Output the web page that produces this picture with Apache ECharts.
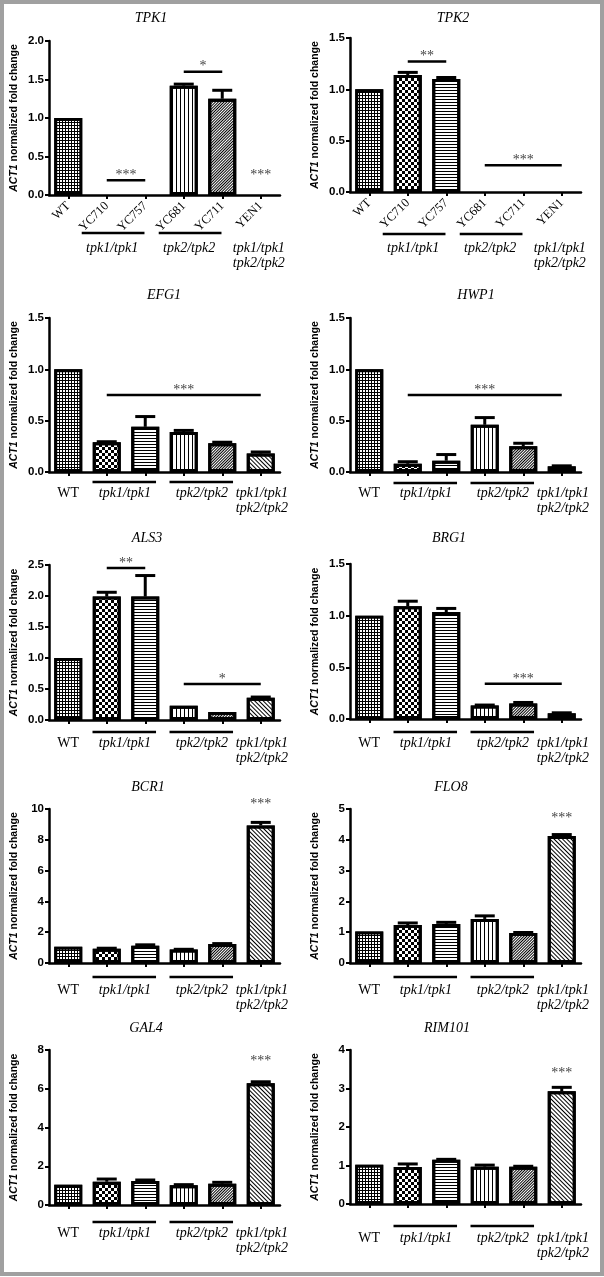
<!DOCTYPE html>
<html><head><meta charset="utf-8">
<script src="https://cdn.jsdelivr.net/npm/echarts@6/dist/echarts.min.js"></script>
<style>html,body{margin:0;padding:0;background:#fff}#c{width:604px;height:1277px}</style>
</head><body><div id="c"></div><script>
// ---------- data ----------
const strains = ['WT', 'YC710', 'YC757', 'YC681', 'YC711', 'YEN1'];
const genes = ['TPK1', 'TPK2', 'EFG1', 'HWP1', 'ALS3', 'BRG1', 'BCR1', 'FLO8', 'GAL4', 'RIM101'];
const groupNames = ['tpk1/tpk1', 'tpk2/tpk2', 'tpk1/tpk1\ntpk2/tpk2'];
const groupMembers = [[1, 2], [3, 4], [5, 5]];

const TPK1_mean = [1.0, 0, 0, 1.42, 1.25, 0];
const TPK1_sd = [0, 0, 0, 0.02, 0.11, 0];
const TPK2_mean = [1.0, 1.14, 1.10, 0, 0, 0];
const TPK2_sd = [0, 0.025, 0.015, 0, 0, 0];
const EFG1_mean = [1.0, 0.29, 0.44, 0.39, 0.28, 0.18];
const EFG1_sd = [0, 0.005, 0.10, 0.015, 0.01, 0.015];
const HWP1_mean = [1.0, 0.08, 0.11, 0.46, 0.25, 0.055];
const HWP1_sd = [0, 0.02, 0.06, 0.07, 0.03, 0.005];
const ALS3_mean = [1.0, 1.99, 1.99, 0.23, 0.13, 0.36];
const ALS3_sd = [0, 0.07, 0.34, 0, 0, 0.01];
const BRG1_mean = [1.0, 1.09, 1.035, 0.13, 0.15, 0.055];
const BRG1_sd = [0, 0.05, 0.035, 0.005, 0.01, 0.005];
const BCR1_mean = [1.05, 0.93, 1.12, 0.87, 1.24, 8.93];
const BCR1_sd = [0, 0.03, 0.06, 0.02, 0.02, 0.2];
const FLO8_mean = [1.02, 1.23, 1.27, 1.43, 0.97, 4.12];
const FLO8_sd = [0, 0.07, 0.05, 0.1, 0.02, 0.05];
const GAL4_mean = [1.05, 1.2, 1.24, 1.02, 1.1, 6.28];
const GAL4_sd = [0, 0.14, 0.05, 0.03, 0.07, 0.08];
const RIM101_mean = [1.02, 0.96, 1.15, 0.97, 0.97, 2.93];
const RIM101_sd = [0, 0.08, 0.01, 0.04, 0.01, 0.1];

const yMax = [2, 1.5, 1.5, 1.5, 2.5, 1.5, 10, 5, 8, 4];
const yStep = [0.5, 0.5, 0.5, 0.5, 0.5, 0.5, 2, 1, 2, 1];
const yDecimals = [1, 1, 1, 1, 1, 1, 0, 0, 0, 0];

// significance: [fromCategory, toCategory, lineValue, stars, drawLine]
const TPK1_sig = [[1, 2, 0.19, '***', 1], [3, 4, 1.6, '*', 1], [5, 5, 0.19, '***', 0]];
const TPK2_sig = [[1, 2, 1.27, '**', 1], [3, 5, 0.26, '***', 1]];
const EFG1_sig = [[1, 5, 0.75, '***', 1]];
const HWP1_sig = [[1, 5, 0.75, '***', 1]];
const ALS3_sig = [[1, 2, 2.45, '**', 1], [3, 5, 0.58, '*', 1]];
const BRG1_sig = [[3, 5, 0.34, '***', 1]];
const BCR1_sig = [[5, 5, 9.95, '***', 0]];
const FLO8_sig = [[5, 5, 4.52, '***', 0]];
const GAL4_sig = [[5, 5, 7.14, '***', 0]];
const RIM101_sig = [[5, 5, 3.27, '***', 0]];

const means = [TPK1_mean, TPK2_mean, EFG1_mean, HWP1_mean, ALS3_mean, BRG1_mean, BCR1_mean, FLO8_mean, GAL4_mean, RIM101_mean];
const sds = [TPK1_sd, TPK2_sd, EFG1_sd, HWP1_sd, ALS3_sd, BRG1_sd, BCR1_sd, FLO8_sd, GAL4_sd, RIM101_sd];
const sigs = [TPK1_sig, TPK2_sig, EFG1_sig, HWP1_sig, ALS3_sig, BRG1_sig, BCR1_sig, FLO8_sig, GAL4_sig, RIM101_sig];

// ---------- layout / style ----------
const layout = [
  {left: 49, top: 41, y0: 195, tx: 151, ty: 18, rot: true, lineOff: 38, labelOff: 53},
  {left: 350, top: 38, y0: 192, tx: 453, ty: 18, rot: true, lineOff: 42, labelOff: 56},
  {left: 49, top: 318, y0: 472, tx: 164, ty: 295, rot: false, lineOff: 10, labelOff: 21},
  {left: 350, top: 318, y0: 472, tx: 476, ty: 295, rot: false, lineOff: 11, labelOff: 21},
  {left: 49, top: 565, y0: 720, tx: 147, ty: 538, rot: false, lineOff: 12, labelOff: 23},
  {left: 350, top: 564, y0: 719, tx: 449, ty: 538, rot: false, lineOff: 13, labelOff: 24},
  {left: 49, top: 809, y0: 963, tx: 148, ty: 787, rot: false, lineOff: 14, labelOff: 27},
  {left: 350, top: 809, y0: 963, tx: 451, ty: 787, rot: false, lineOff: 14, labelOff: 27},
  {left: 49, top: 1050, y0: 1205, tx: 146, ty: 1028, rot: false, lineOff: 17, labelOff: 28},
  {left: 350, top: 1050, y0: 1204, tx: 447, ty: 1028, rot: false, lineOff: 22, labelOff: 34}
];
const GRID_W = 231;
const SERIF = '"Liberation Serif", "Times New Roman", serif';
const SANS = '"Liberation Sans", Arial, sans-serif';

const decals = [
  {symbol: 'rect', symbolSize: 1, color: '#fff', dashArrayX: [2, 1], dashArrayY: [2, 1]},
  {symbol: 'rect', symbolSize: 1, color: '#000', dashArrayX: [[3, 3], [0, 3, 3, 0]], dashArrayY: [3, 0]},
  {symbol: 'rect', symbolSize: 1, color: '#000', dashArrayX: [10, 0], dashArrayY: [1, 2]},
  {symbol: 'rect', symbolSize: 1, color: '#000', dashArrayX: [1, 3], dashArrayY: [10, 0]},
  {symbol: 'rect', symbolSize: 1, color: '#000', dashArrayX: [10, 0], dashArrayY: [1, 1], rotation: -Math.PI / 4},
  {symbol: 'rect', symbolSize: 1, color: '#000', dashArrayX: [10, 0], dashArrayY: [1, 2], rotation: Math.PI / 4}
];
const fills = ['#000', '#fff', '#fff', '#fff', '#fff', '#fff'];

// ---------- build ----------
const grids = [], xAxes = [], yAxes = [], series = [], graphics = [];

layout.forEach((L, p) => {
  grids.push({left: L.left, top: L.top, width: GRID_W, height: L.y0 - L.top, outerBoundsMode: 'none', containLabel: false});
  xAxes.push({
    gridIndex: p, type: 'category', data: strains,
    axisLine: {show: true, lineStyle: {color: '#000', width: 2.5}},
    axisTick: {show: true, alignWithLabel: true, interval: 0, length: 4, lineStyle: {color: '#000', width: 2}},
    splitLine: {show: false},
    axisLabel: L.rot
      ? {interval: 0, rotate: 45, margin: 9, color: '#000', fontFamily: SERIF, fontSize: 12.5}
      : {interval: 0, margin: L.labelOff - 7, color: '#000', fontFamily: SERIF, fontSize: 14,
         formatter: (v, i) => (i === 0 ? v : '')}
  });
  yAxes.push({
    gridIndex: p, type: 'value', min: 0, max: yMax[p], interval: yStep[p],
    axisLine: {show: true, lineStyle: {color: '#000', width: 2.5}},
    axisTick: {show: true, length: 4, lineStyle: {color: '#000', width: 2}},
    splitLine: {show: false},
    axisLabel: {margin: 5, color: '#000', fontFamily: SANS, fontWeight: 'bold', fontSize: 11.5,
                formatter: v => v.toFixed(yDecimals[p])},
    name: '{i|ACT1} normalized fold change', nameLocation: 'middle', nameGap: 29,
    nameTextStyle: {color: '#000', fontFamily: SANS, fontWeight: 'bold', fontSize: 10.5,
      rich: {i: {fontStyle: 'italic', fontWeight: 'bold', fontFamily: SANS, fontSize: 10.5, color: '#000'}}}
  });

  // bars
  series.push({
    type: 'bar', xAxisIndex: p, yAxisIndex: p, barWidth: 28, z: 2,
    data: means[p].map((v, i) => ({
      value: v,
      itemStyle: {color: fills[i], borderColor: '#000', borderWidth: v > 0 ? 3 : 0, decal: decals[i]}
    }))
  });

  // error bars (upper only)
  const errData = [];
  means[p].forEach((v, i) => { if (sds[p][i] > 0) errData.push([i, v, v + sds[p][i]]); });
  series.push({
    type: 'custom', xAxisIndex: p, yAxisIndex: p, z: 4, clip: false, silent: true,
    data: errData,
    renderItem: (params, api) => {
      const a = api.coord([api.value(0), api.value(1)]);
      const b = api.coord([api.value(0), api.value(2)]);
      return {type: 'group', children: [
        {type: 'line', shape: {x1: a[0], y1: a[1], x2: b[0], y2: b[1]}, style: {stroke: '#000', lineWidth: 3}},
        {type: 'line', shape: {x1: b[0] - 10, y1: b[1], x2: b[0] + 10, y2: b[1]}, style: {stroke: '#000', lineWidth: 3}}
      ]};
    }
  });

  // annotations: significance + group labels
  const items = [];
  sigs[p].forEach(s => items.push({kind: 'sig', x0: s[0], x1: s[1], y: s[2], text: s[3], line: !!s[4]}));
  const ext0 = L.rot ? -0.65 : -0.37, ext1 = L.rot ? -0.02 : 0.28;
  const cOff = L.rot ? -0.36 : -0.03, dOff = L.rot ? -0.05 : 0.03;
  groupNames.forEach((g, gi) => {
    const [f, t] = groupMembers[gi];
    const single = f === t;
    items.push({kind: 'group', label: g, line: !single, x0: f + ext0, x1: t + ext1,
                cx: (f + t) / 2 + (single ? dOff : cOff), y: 0});
  });
  series.push({
    type: 'custom', xAxisIndex: p, yAxisIndex: p, z: 5, clip: false, silent: true,
    data: items.map(it => [Math.round(it.kind === 'sig' ? it.x0 : 0), it.y]),
    renderItem: (params, api) => {
      const a = items[params.dataIndex];
      const band = api.size([1, 0])[0];
      const base = api.coord([0, 0]);
      const px = f => base[0] + f * band;
      if (a.kind === 'sig') {
        const y = api.coord([0, a.y])[1];
        const ch = [];
        if (a.line) ch.push({type: 'rect', shape: {x: px(a.x0), y: y - 1.25, width: px(a.x1) - px(a.x0), height: 2.5}, style: {fill: '#000'}});
        ch.push({type: 'text', x: (px(a.x0) + px(a.x1)) / 2, y: y - 5,
                 style: {text: a.text, align: 'center', verticalAlign: 'middle', font: '14px ' + SERIF, fill: '#444'}});
        return {type: 'group', children: ch};
      }
      const y0 = base[1];
      const ch = [];
      if (a.line) ch.push({type: 'rect', shape: {x: px(a.x0), y: y0 + L.lineOff - 1.25, width: px(a.x1) - px(a.x0), height: 2.5}, style: {fill: '#000'}});
      const multi = a.label.indexOf('\n') >= 0;
      ch.push({type: 'text', x: px(a.cx), y: y0 + L.labelOff + (multi ? 7.5 : 0),
               style: {text: a.label, align: 'center', verticalAlign: 'middle', font: 'italic 14px ' + SERIF, fill: '#000', lineHeight: 15}});
      return {type: 'group', children: ch};
    }
  });

  graphics.push({type: 'text', x: L.tx, y: L.ty, style: {text: genes[p], align: 'center', verticalAlign: 'middle', font: 'italic 14px ' + SERIF, fill: '#000'}});
});

graphics.push({type: 'rect', shape: {x: 2, y: 2, width: 600, height: 1272}, style: {fill: 'none', stroke: '#a0a0a0', lineWidth: 4}, z: 100});

const chart = echarts.init(document.getElementById('c'), null, {renderer: 'canvas'});
chart.setOption({
  animation: false,
  backgroundColor: '#fff',
  grid: grids, xAxis: xAxes, yAxis: yAxes, series: series,
  graphic: graphics
});
</script></body></html>
